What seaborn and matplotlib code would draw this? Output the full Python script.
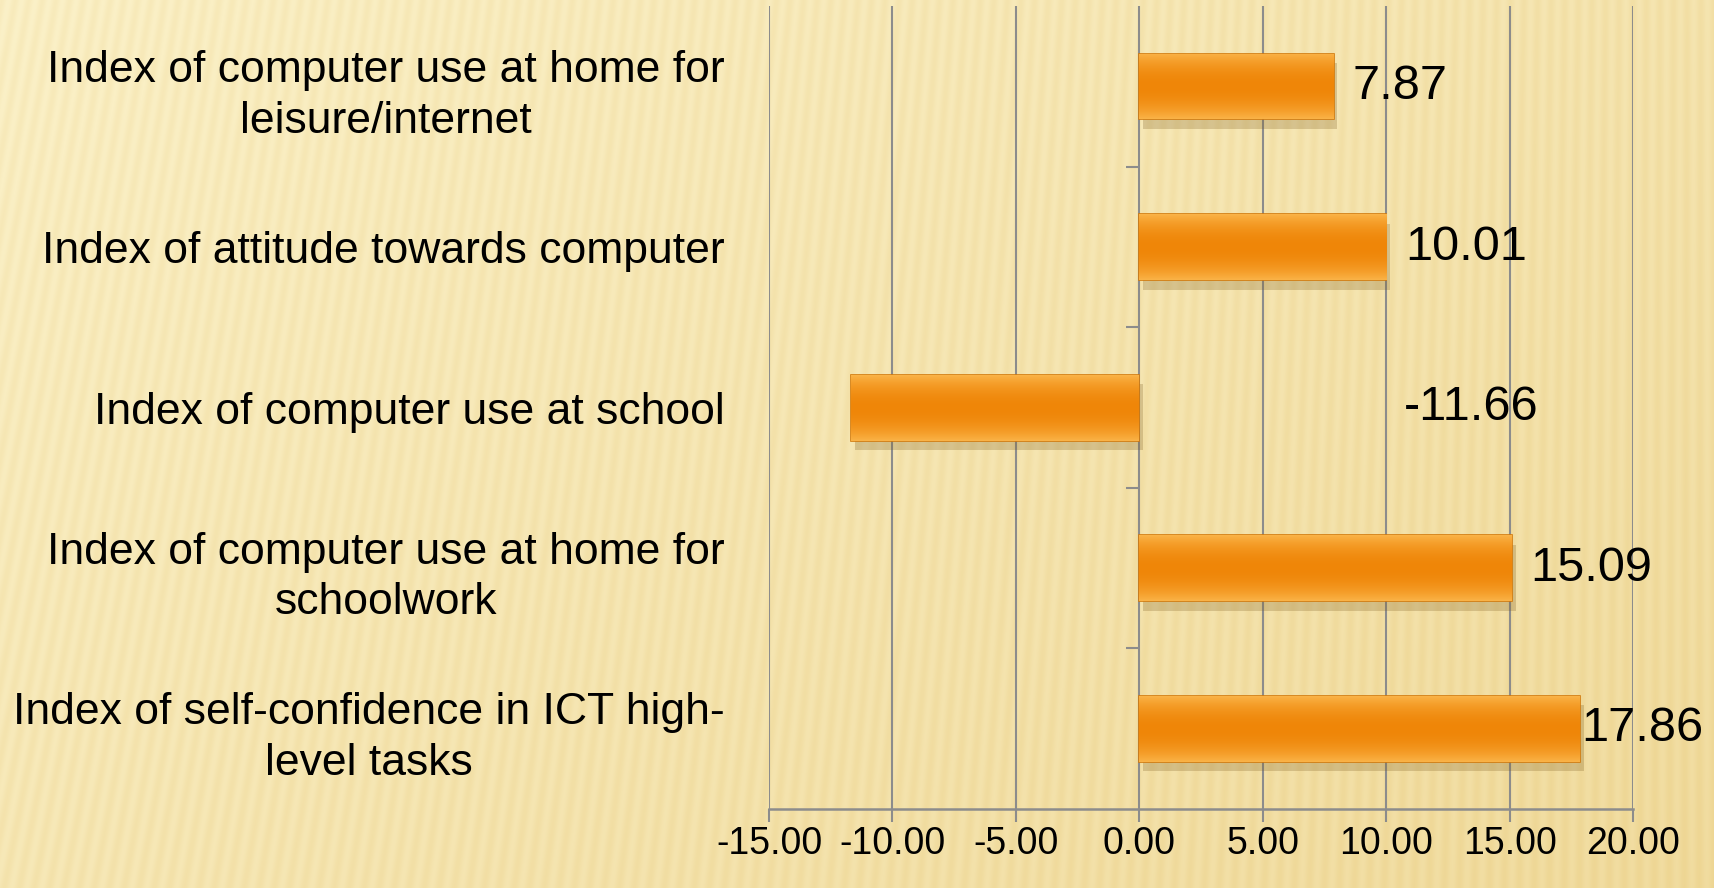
import numpy as np
import pandas as pd
import matplotlib
matplotlib.use("Agg")
import matplotlib.pyplot as plt
import seaborn as sns
from matplotlib.patches import Rectangle

categories = [
    "Index of computer use at home for\nleisure/internet",
    "Index of attitude towards computer",
    "Index of computer use at school",
    "Index of computer use at home for\nschoolwork",
    "Index of self-confidence in ICT high-\nlevel tasks",
]
values = [7.87, 10.01, -11.66, 15.09, 17.86]
xticks = [-15, -10, -5, 0, 5, 10, 15, 20]

df = pd.DataFrame({"category": categories, "value": values})

sns.set_theme(style="white")
plt.rcParams["font.family"] = ["Liberation Sans Narrow", "Liberation Sans", "DejaVu Sans"]

W, H = 1715, 888
fig = plt.figure(figsize=(W / 100, H / 100), dpi=100)

# striped yellow background
bg = fig.add_axes([0, 0, 1, 1])
yy, xx = np.mgrid[0:H, 0:W]
base = 0.5 * (xx / W) + 0.35 * (yy / H)
stripes = 0.5 + 0.5 * np.sin(2 * np.pi * (xx - 0.2 * (H - yy) * (1 - xx / W)) / 15.0)
light = np.array([251, 241, 200]) / 255
dark = np.array([236, 210, 140]) / 255
t = np.clip(base * 0.8 + stripes * 0.2, 0, 1)[..., None]
img = light * (1 - t) + dark * t
bg.imshow(img, aspect="auto", extent=[0, 1, 0, 1], origin="upper")
bg.axis("off")

ax = fig.add_axes([0.4484, 0.089, 0.5038, 0.904])
ax.patch.set_alpha(0)

sns.barplot(data=df, x="value", y="category", orient="h", color="#F39314",
            width=0.41, edgecolor="#D27A0C", linewidth=1.2, ax=ax, zorder=3)

# bar shading and shadow
grad = np.linspace(0, 1, 64)
prof = 1 - 4 * (grad - 0.5) ** 2
cols = np.zeros((64, 1, 3))
edge_c = np.array([250, 178, 70]) / 255
mid_c = np.array([239, 134, 8]) / 255
for i, p in enumerate(prof):
    cols[i, 0] = edge_c * (1 - p) + mid_c * p
for bar in ax.patches:
    x0, y0 = bar.get_x(), bar.get_y()
    w, h = bar.get_width(), bar.get_height()
    sh = Rectangle((x0 + 0.15, y0 + 0.06), w, h, facecolor="#7a5a20", alpha=0.25,
                   edgecolor="none", zorder=2)
    ax.add_patch(sh)
    im = ax.imshow(cols, aspect="auto", extent=[x0, x0 + w, y0 + h, y0], zorder=3.5)
    im.set_clip_path(bar)

ax.set_xlim(-15, 20)
ax.set_ylim(4.5, -0.5)
ax.set_xticks(xticks)
ax.set_xticklabels([f"{v:.2f}" for v in xticks], fontsize=27)
ax.tick_params(axis="x", length=9, width=1.5, color="#8c8c8c", pad=3, direction="out",
               bottom=True, labelcolor="black")
ax.set_yticks(range(len(categories)))
ax.set_yticklabels(categories, fontsize=32, multialignment="center", color="black",
                   linespacing=1.3)
ax.tick_params(axis="y", length=0, pad=32)
ax.set_xlabel("")
ax.set_ylabel("")

for s in ["top", "left", "right"]:
    ax.spines[s].set_visible(False)
ax.spines["bottom"].set_color("#8c8c8c")
ax.spines["bottom"].set_linewidth(1.8)
for v in xticks:
    ax.axvline(v, color="#8c8c8c", lw=1.5, zorder=1)

# category separator ticks on the zero axis
ax.hlines([0.5, 1.5, 2.5, 3.5], -0.53, 0, color="#8c8c8c", lw=1.5, zorder=1)

for i, v in enumerate(values):
    lx = min(v + 0.75, 17.9) if v > 0 else 10.7
    ax.text(lx, i, f"{v:.2f}", va="center", ha="left", fontsize=35, color="black",
            family=["Liberation Sans", "DejaVu Sans"], zorder=5)

fig.savefig("out.png", dpi=100)
